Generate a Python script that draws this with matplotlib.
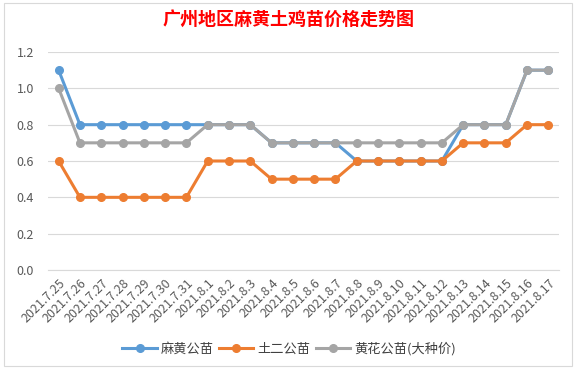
import matplotlib.pyplot as plt
from matplotlib.patches import Rectangle

plt.rcParams['font.family'] = ['Noto Sans CJK SC', 'DejaVu Sans']

# x-axis categories
dates = ['2021.7.25', '2021.7.26', '2021.7.27', '2021.7.28', '2021.7.29', '2021.7.30',
         '2021.7.31', '2021.8.1', '2021.8.2', '2021.8.3', '2021.8.4', '2021.8.5',
         '2021.8.6', '2021.8.7', '2021.8.8', '2021.8.9', '2021.8.10', '2021.8.11',
         '2021.8.12', '2021.8.13', '2021.8.14', '2021.8.15', '2021.8.16', '2021.8.17']

mahuang = [1.1, 0.8, 0.8, 0.8, 0.8, 0.8, 0.8, 0.8, 0.8, 0.8, 0.7, 0.7,
           0.7, 0.7, 0.6, 0.6, 0.6, 0.6, 0.6, 0.8, 0.8, 0.8, 1.1, 1.1]
tuer = [0.6, 0.4, 0.4, 0.4, 0.4, 0.4, 0.4, 0.6, 0.6, 0.6, 0.5, 0.5,
        0.5, 0.5, 0.6, 0.6, 0.6, 0.6, 0.6, 0.7, 0.7, 0.7, 0.8, 0.8]
huanghua = [1.0, 0.7, 0.7, 0.7, 0.7, 0.7, 0.7, 0.8, 0.8, 0.8, 0.7, 0.7,
            0.7, 0.7, 0.7, 0.7, 0.7, 0.7, 0.7, 0.8, 0.8, 0.8, 1.1, 1.1]

series = [('麻黄公苗', mahuang, '#5B9BD5'),
          ('土二公苗', tuer, '#ED7D31'),
          ('黄花公苗(大种价)', huanghua, '#A5A5A5')]

fig = plt.figure(figsize=(5.78, 3.71), dpi=100)
fig.patch.set_facecolor('white')
# chart frame like the spreadsheet chart object
fig.patches.append(Rectangle((4 / 578, 5 / 371), 568 / 578, 363 / 371, transform=fig.transFigure,
                             fill=False, edgecolor='#D9D9D9', linewidth=0.8))

ax = fig.add_axes([48 / 578, 1 - 270 / 371, 511 / 578, 218 / 371])

x = range(len(dates))
for name, vals, col in series:
    ax.plot(x, vals, color=col, linewidth=2.2, marker='o', markersize=5.5, label=name)

ax.set_xlim(-0.5, len(dates) - 0.5)
ax.set_ylim(0, 1.2)
ax.set_yticks([0, 0.2, 0.4, 0.6, 0.8, 1.0, 1.2])
ax.set_yticklabels(['%.1f' % v for v in [0, 0.2, 0.4, 0.6, 0.8, 1.0, 1.2]])
ax.set_xticks(list(x))
ax.set_xticklabels(dates, rotation=45, ha='right', rotation_mode='anchor')
ax.tick_params(axis='both', length=0, colors='#595959', labelsize=9)
ax.tick_params(axis='y', pad=10)
ax.tick_params(axis='x', pad=5)
ax.grid(axis='y', color='#D9D9D9', linewidth=0.8)
ax.set_axisbelow(True)
for s in ['top', 'right', 'left']:
    ax.spines[s].set_visible(False)
ax.spines['bottom'].set_color('#D9D9D9')

fig.text(0.5, 1 - 19 / 371, '广州地区麻黄土鸡苗价格走势图', color='#FF0000', fontsize=13,
         fontweight='bold', ha='center', va='center')

leg = fig.legend(loc='center', bbox_to_anchor=(0.5, 1 - 349 / 371), ncol=3, frameon=False,
                 fontsize=9.5, handlelength=2.6, columnspacing=0.4, handletextpad=0.3)
for t in leg.get_texts():
    t.set_color('#404040')

fig.savefig('out.png', dpi=100)
